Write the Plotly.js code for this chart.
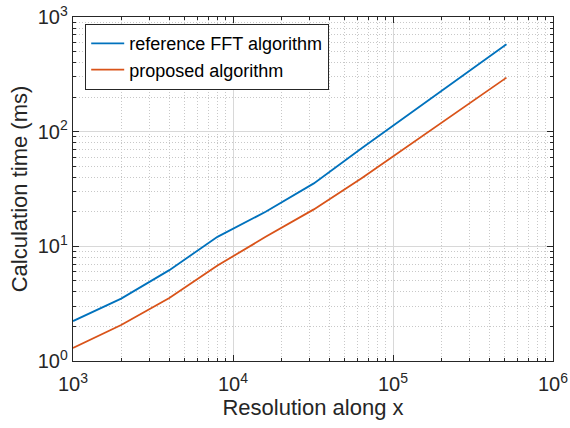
<!DOCTYPE html>
<html>
<head>
<meta charset="utf-8">
<script src="https://cdn.plot.ly/plotly-3.0.1.min.js"></script>
<style>html,body{margin:0;padding:0;background:#fff;}#chart{width:570px;height:428px;}</style>
</head>
<body>
<div id="chart"></div>
<script>
const resolution = [1000, 2000, 4000, 8000, 16000, 32000, 64000, 128000, 256000, 512000];
const referenceFFT = [2.23, 3.5, 6.2, 12.1, 20.0, 35.4, 72, 144, 289, 578];
const proposed = [1.30, 2.06, 3.54, 6.8, 12.1, 21.0, 39.4, 77, 151, 296];
const seriesNames = ["reference FFT algorithm", "proposed algorithm"];
const decadeVals = [1, 10, 100, 1000, 10000, 100000, 1000000];
const decadeText = ["10<sup>0</sup>", "10<sup>1</sup>", "10<sup>2</sup>", "10<sup>3</sup>", "10<sup>4</sup>", "10<sup>5</sup>", "10<sup>6</sup>"];

const font = "Liberation Sans, Arial, sans-serif";
const axisCommon = {
  type: "log",
  showline: true, linecolor: "#262626", linewidth: 1.2, mirror: "allticks",
  ticks: "inside", ticklen: 6, tickcolor: "#262626",
  showgrid: true, gridcolor: "#d8d8d8", gridwidth: 1,
  zeroline: false,
  tickfont: {family: font, size: 20, color: "#262626"},
  tickmode: "array", tickvals: decadeVals, ticktext: decadeText,
  minor: {dtick: "D1", ticks: "inside", ticklen: 3, tickcolor: "#262626",
          showgrid: true, gridcolor: "#c8c8c8", griddash: "1px,2px", gridwidth: 1}
};

const data = [
  {x: resolution, y: referenceFFT, name: seriesNames[0], mode: "lines",
   line: {color: "#0072BD", width: 1.8}},
  {x: resolution, y: proposed, name: seriesNames[1], mode: "lines",
   line: {color: "#D95319", width: 1.8}}
];

const layout = {
  width: 570, height: 428,
  margin: {l: 73, r: 17, t: 17, b: 67},
  paper_bgcolor: "#fff", plot_bgcolor: "#fff",
  showlegend: true,
  legend: {x: 0.025, y: 0.98, xanchor: "left", yanchor: "top",
           bgcolor: "#fff", bordercolor: "#262626", borderwidth: 1.2,
           font: {family: font, size: 18, color: "#000"},
           tracegroupgap: 0, itemwidth: 33},
  xaxis: Object.assign({}, axisCommon, {
    range: [3, 6], ticklabelstandoff: 5,
    title: {text: "Resolution along x", font: {family: font, size: 22, color: "#262626"}, standoff: 5}
  }),
  yaxis: Object.assign({}, axisCommon, {
    range: [0, 3],
    title: {text: "Calculation time (ms)", font: {family: font, size: 22, color: "#262626"}, standoff: 4}
  })
};

Plotly.newPlot("chart", data, layout, {displayModeBar: false, staticPlot: true});
</script>
</body>
</html>
